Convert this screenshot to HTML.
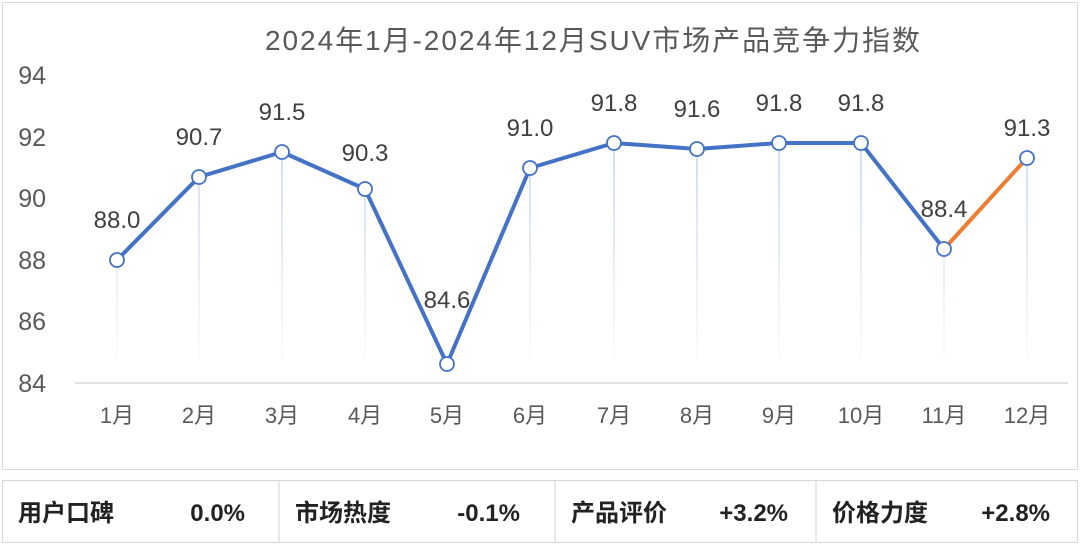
<!DOCTYPE html>
<html><head><meta charset="utf-8"><style>
body{margin:0;width:1080px;height:545px;background:#fff;overflow:hidden;font-family:"Liberation Sans","Noto Sans CJK SC",sans-serif}
</style></head><body>
<svg width="1080" height="545" xmlns="http://www.w3.org/2000/svg" style="position:absolute;left:0;top:0">
<defs><linearGradient id="g" x1="0" y1="0" x2="0" y2="1"><stop offset="0" stop-color="#b4c7e7"/><stop offset="1" stop-color="#b4c7e7" stop-opacity="0"/></linearGradient></defs>
<rect x="2.5" y="2.5" width="1075" height="467" fill="none" stroke="#d9d9d9"/>
<text x="265" y="50" font-size="28" fill="#595959" textLength="655" lengthAdjust="spacing" font-family="Liberation Sans,Noto Sans CJK SC,sans-serif">2024年1月-2024年12月SUV市场产品竞争力指数</text>
<g font-size="25" fill="#595959" text-anchor="end">
<text x="46" y="84">94</text><text x="46" y="146">92</text><text x="46" y="207">90</text><text x="46" y="269">88</text><text x="46" y="330">86</text><text x="46" y="392">84</text>
</g>
<line x1="75" y1="383" x2="1068" y2="383" stroke="#d9d9d9" stroke-width="1.5"/>
<g font-size="22" fill="#595959" text-anchor="middle">
<text x="117" y="423">1月</text><text x="199" y="423">2月</text><text x="282" y="423">3月</text><text x="365" y="423">4月</text><text x="447" y="423">5月</text><text x="530" y="423">6月</text><text x="614" y="423">7月</text><text x="697" y="423">8月</text><text x="779" y="423">9月</text><text x="861" y="423">10月</text><text x="944" y="423">11月</text><text x="1027" y="423">12月</text>
</g>
<g stroke="url(#g)" stroke-width="1.2" fill="none">
<path d="M117 260V360M199 177V360M282 152V360M365 189V360M447 364V383M530 168V360M614 143V360M697 149V360M779 143V360M861 143V360M944 249V360M1027 158V360"/>
</g>
<polyline points="117,260 199,177 282,152 365,189 447,364 530,168 614,143 697,149 779,143 861,143 944,249" fill="none" stroke="#4472c4" stroke-width="4" stroke-linejoin="round"/>
<line x1="944" y1="249" x2="1027" y2="158" stroke="#ed7d31" stroke-width="4"/>
<g fill="#fff" stroke="#4472c4" stroke-width="1.8">
<circle cx="117" cy="260" r="7"/><circle cx="199" cy="177" r="7"/><circle cx="282" cy="152" r="7"/><circle cx="365" cy="189" r="7"/><circle cx="447" cy="364" r="7"/><circle cx="530" cy="168" r="7"/><circle cx="614" cy="143" r="7"/><circle cx="697" cy="149" r="7"/><circle cx="779" cy="143" r="7"/><circle cx="861" cy="143" r="7"/><circle cx="944" cy="249" r="7"/><circle cx="1027" cy="158" r="7"/>
</g>
<g font-size="24" fill="#404040" text-anchor="middle">
<text x="117" y="228">88.0</text><text x="199" y="145">90.7</text><text x="282" y="120">91.5</text><text x="365" y="161">90.3</text><text x="447" y="308">84.6</text><text x="530" y="136">91.0</text><text x="614" y="111">91.8</text><text x="697" y="117">91.6</text><text x="779" y="111">91.8</text><text x="861" y="111">91.8</text><text x="944" y="217">88.4</text><text x="1027" y="136">91.3</text>
</g>
<rect x="2.5" y="480.5" width="1075" height="62" fill="none" stroke="#d9d9d9" stroke-width="1.2"/>
<path d="M279 480.5V542.5M555 480.5V542.5M816 480.5V542.5" stroke="#d9d9d9" stroke-width="1.2"/>
<g font-size="24" font-weight="bold" fill="#222">
<text x="18" y="521">用户口碑</text><text x="245" y="521" text-anchor="end">0.0%</text>
<text x="295" y="521">市场热度</text><text x="520" y="521" text-anchor="end">-0.1%</text>
<text x="571" y="521">产品评价</text><text x="788" y="521" text-anchor="end">+3.2%</text>
<text x="832" y="521">价格力度</text><text x="1050" y="521" text-anchor="end">+2.8%</text>
</g>
</svg>
</body></html>
